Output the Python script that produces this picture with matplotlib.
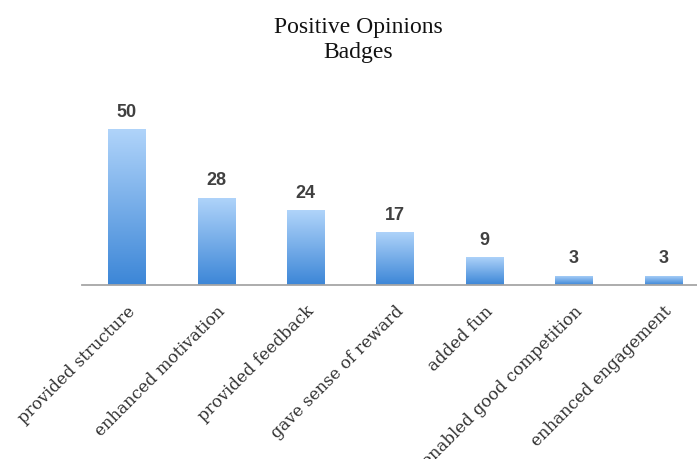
import matplotlib
matplotlib.use("Agg")
import matplotlib.pyplot as plt
import numpy as np
from matplotlib.colors import LinearSegmentedColormap

categories = ["provided structure", "enhanced motivation", "provided feedback",
              "gave sense of reward", "added fun", "enabled good competition",
              "enhanced engagement"]
values = [50, 28, 24, 17, 9, 3, 3]
title = "Positive Opinions\nBadges"

W, H = 697, 459
fig = plt.figure(figsize=(W / 100, H / 100), dpi=100)
left = 82 / W
right = 708 / W
bottom = 1 - 285 / H
top = 1 - 129 / H
ax = fig.add_axes([left, bottom, right - left, top - bottom])

x = np.arange(len(categories))
bars = ax.bar(x, values, width=0.415, color="none", edgecolor="none")

cmap = LinearSegmentedColormap.from_list("g", ["#3c86d7", "#b0d4fa"])
grad = np.linspace(0, 1, 256).reshape(-1, 1)
for b in bars:
    x0, y0 = b.get_x(), b.get_y()
    w, h = b.get_width(), b.get_height()
    im = ax.imshow(grad, cmap=cmap, aspect="auto", origin="lower",
                   extent=(x0, x0 + w, y0, y0 + h), zorder=2)
    im.set_clip_path(b)

ax.set_xlim(-0.5, len(categories) - 0.5)
ax.set_ylim(0, 50)

for xi, v in zip(x, values):
    ax.annotate(str(v), (xi, v), xytext=(0, 6), textcoords="offset points",
                ha="center", va="bottom", fontsize=13, fontweight="bold",
                color="#404040", family="Liberation Sans")

for s in ["top", "right", "left"]:
    ax.spines[s].set_visible(False)
ax.spines["bottom"].set_color("#a6a6a6")
ax.spines["bottom"].set_linewidth(1.3)
ax.set_yticks([])
ax.set_xticks(x)
ax.set_xticklabels(categories, rotation=45, ha="right", va="top",
                   rotation_mode="anchor", fontsize=12, family="DejaVu Serif",
                   color="#333333")
ax.tick_params(axis="x", length=0, pad=13)
ax.patch.set_alpha(0)

fig.text(358 / W, 1 - 40 / H, title, ha="center", va="center",
         fontsize=17, family="Liberation Serif", color="#111111", linespacing=1.2)

fig.savefig("out.png", dpi=100)
